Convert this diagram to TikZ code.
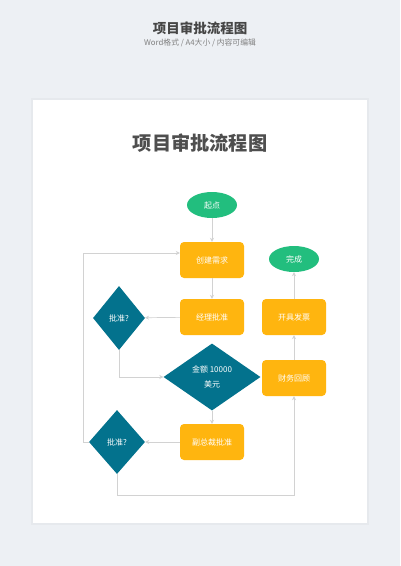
\documentclass[tikz,border=0pt]{standalone}
\usepackage{fontspec}
\setmainfont{Noto Sans CJK SC}
\usetikzlibrary{shapes.geometric,arrows.meta}
\definecolor{bgc}{HTML}{EDF0F4}
\definecolor{shadowc}{HTML}{E6E9ED}
\definecolor{greenc}{HTML}{22BE7E}
\definecolor{orangec}{HTML}{FFB50F}
\definecolor{tealc}{HTML}{03728D}
\definecolor{linec}{HTML}{D2D2D2}
\definecolor{titlec}{HTML}{4E4E4E}
\begin{document}
\begin{tikzpicture}[x=1pt,y=-1pt,
  txt/.style={text=white,font=\fontsize{8}{9.5}\selectfont},
  oval/.style={ellipse,fill=greenc,draw=none,minimum width=50pt,minimum height=26pt,inner sep=0pt,txt},
  box/.style={rectangle,rounded corners=4pt,fill=orangec,draw=none,minimum width=64pt,minimum height=36pt,inner sep=0pt,txt},
  dia/.style={diamond,fill=tealc,draw=none,inner sep=0pt,txt},
  conn/.style={draw=linec,line width=0.7pt,-{Stealth[length=4pt,width=4pt]}}]
\useasboundingbox (0,0) rectangle (400,566);
\fill[bgc] (0,0) rectangle (400,566);
% card with shadow
\fill[shadowc] (31,98) rectangle (369,525);
\fill[white] (33,100) rectangle (367,523);
% header
\node (htitle) at (200,28) {\fontsize{13.5}{15}\selectfont\bfseries\color{titlec!90!black}项目审批流程图};
\node (hsub) at (200,43) {\fontsize{7.8}{9}\selectfont\color{gray}Word格式 / A4大小 / 内容可编辑};
\node (ctitle) at (200,143) {\fontsize{19.2}{22}\selectfont\bfseries\color{titlec}项目审批流程图};
% nodes
\node[oval] (start) at (212,205) {起点};
\node[box] (create) at (212,260) {创建需求};
\node[oval] (done) at (294,259) {完成};
\node[box] (mgr) at (212,317) {经理批准};
\node[box] (invoice) at (294,317) {开具发票};
\node[dia,minimum width=52pt,minimum height=64pt] (q1) at (119,318) {批准?};
\node[dia,minimum width=97pt,minimum height=67pt,align=center] (amount) at (212,377) {金额 10000\\[5pt]美元};
\node[box] (review) at (294,378) {财务回顾};
\node[dia,minimum width=56pt,minimum height=64pt] (q2) at (117,442) {批准?};
\node[box] (vp) at (212,442) {副总裁批准};
% coordinates for loops
\coordinate (l1) at (83,442);
\coordinate (l2) at (83,253);
\coordinate (b1) at (294,495);
% connectors
\draw[conn] (start) -- (create);
\draw[conn] (create) -- (mgr);
\draw[conn] (mgr) -- (q1);
\draw[conn] (q1.south) |- (amount.west);
\draw[conn] (amount) -- (vp);
\draw[conn] (vp) -- (q2);
\draw[conn] (q2.west) -- (l1) -- (l2) -- ([yshift=7pt]create.west);
\draw[conn] (q2.south) |- (b1) -- (review.south);
\draw[conn] (review) -- (invoice);
\draw[conn] (invoice) -- (done);
\end{tikzpicture}
\end{document}
